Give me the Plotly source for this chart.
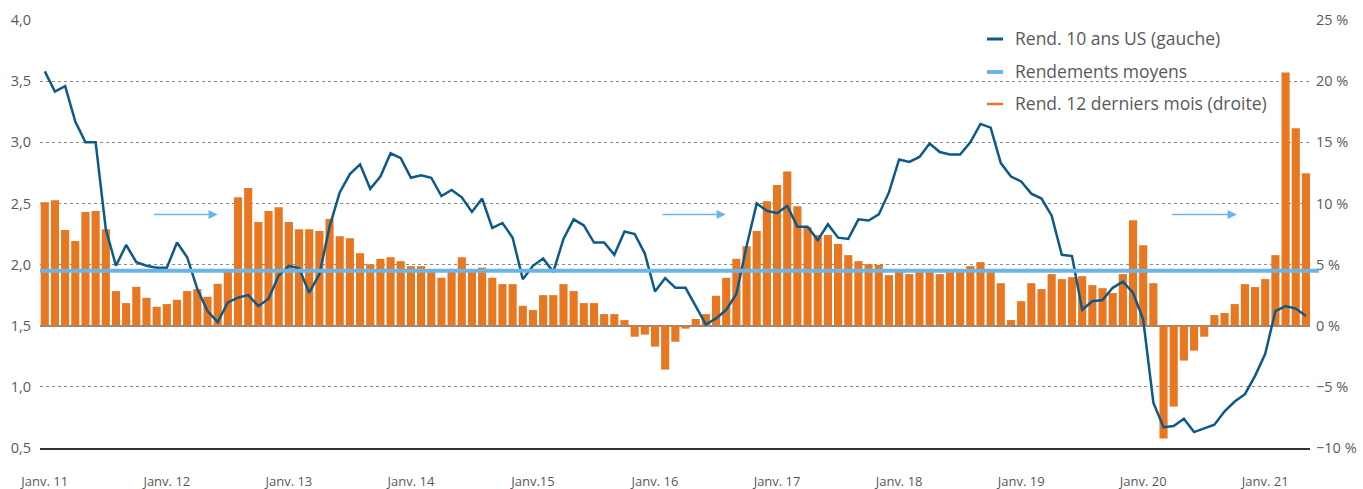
import plotly.graph_objects as go
import pandas as pd

# ---------------- data ----------------
months = pd.date_range("2011-01-01", "2021-05-01", freq="MS")

ret_12m = [  # Rend. 12 derniers mois (droite), %
    10.1, 10.25, 7.83, 6.93, 9.3, 9.38, 7.89, 2.83, 1.85, 3.18, 2.28, 1.55,
    1.77, 2.12, 2.83, 2.99, 2.37, 3.43, 4.5, 10.5,
    11.26, 8.48, 9.38, 9.68, 8.48, 7.89, 7.89, 7.75, 8.73, 7.32, 7.15, 5.93,
    5.03, 5.47, 5.6, 5.28, 4.87, 4.87, 4.45, 3.92,
    4.4, 5.6, 4.45, 4.75, 3.92, 3.40, 3.40, 1.63, 1.28, 2.50, 2.50, 3.40,
    2.83, 1.85, 1.85, 0.95, 0.95, 0.46, -0.90, -0.73, -1.71, -3.59, -1.31,
    -0.24, 0.55, 0.95, 2.45, 3.92, 5.47, 6.5, 7.75, 10.17, 11.5, 12.62,
    9.76, 8.05, 7.42, 7.42, 6.69, 5.77, 5.28, 5.03, 4.98, 4.14,
    4.4, 4.22, 4.45, 4.45, 4.22, 4.45, 4.45, 4.87, 5.2, 4.45, 3.48, 0.46,
    2.01, 3.48, 2.99, 4.22, 3.81, 3.97, 4.05, 3.32, 3.07, 2.67, 4.22,
    8.62, 6.58, 3.48, -9.22, -6.61, -2.85, -2.04, -0.90, 0.87, 1.04, 1.77,
    3.40, 3.16, 3.81, 5.77, 20.7, 16.15, 12.46,
]

us10y = [  # Rend. 10 ans US (gauche)
    3.58, 3.415, 3.46, 3.17, 3.00, 3.00, 2.29, 1.99, 2.16, 2.02, 1.99, 1.975,
    1.975, 2.18, 2.06, 1.80, 1.62, 1.53, 1.69, 1.73,
    1.75, 1.66, 1.72, 1.91, 1.99, 1.97, 1.77, 1.92, 2.31, 2.59, 2.74, 2.82,
    2.62, 2.72, 2.91, 2.87, 2.71, 2.73, 2.71, 2.56, 2.61,
    2.55, 2.43, 2.54, 2.30, 2.34, 2.22, 1.88, 1.99, 2.05, 1.94, 2.21, 2.37,
    2.32, 2.18, 2.18, 2.08, 2.27, 2.25, 2.09, 1.78, 1.89, 1.81,
    1.81, 1.66, 1.51, 1.56, 1.63, 1.76, 2.15, 2.50, 2.44, 2.42, 2.48, 2.31,
    2.31, 2.20, 2.33, 2.22, 2.21, 2.37, 2.36, 2.41, 2.59, 2.86,
    2.84, 2.88, 2.99, 2.92, 2.90, 2.90, 3.00, 3.15, 3.12, 2.83, 2.72, 2.68,
    2.58, 2.54, 2.40, 2.08, 2.07, 1.63, 1.70, 1.71, 1.81,
    1.86, 1.77, 1.55, 0.87, 0.67, 0.68, 0.74, 0.63, 0.66, 0.69, 0.80, 0.88,
    0.94, 1.09, 1.27, 1.62, 1.66, 1.64, 1.58,
]

avg_ret = 4.5  # Rendements moyens, %

tick_labels = ["Janv. 11", "Janv. 12", "Janv. 13", "Janv. 14", "Janv.15",
               "Janv. 16", "Janv. 17", "Janv. 18", "Janv. 19", "Janv. 20",
               "Janv. 21"]

legend_names = ["Rend. 10 ans US (gauche)", "Rendements moyens",
                "Rend. 12 derniers mois (droite)"]

# arrows (tail, head) in month index, at a level in %
arrow_spans = [(10.6, 17.0), (60.6, 66.95), (110.7, 117.2)]
arrow_level = 9.1

# ---------------- styling ----------------
C_LINE = "#0b5a8a"
C_AVG = "#6cb4e6"
C_BAR = "#e87722"
C_TXT = "#595959"
FONT = "Open Sans"

W, H = 1363, 489
ML, MR, MT, MB = 40, 53, 20, 41
PW, PH = W - ML - MR, H - MT - MB


def px(xp):
    return (xp - ML) / PW


def py(yp):
    return (H - MB - yp) / PH


x = list(range(len(months)))
tickvals = [i for i, m in enumerate(months) if m.month == 1]

fig = go.Figure()
fig.add_trace(go.Bar(x=x, y=ret_12m, marker_color=C_BAR, marker_line_width=0,
                     name=legend_names[2], yaxis="y", showlegend=False))
fig.add_trace(go.Scatter(x=x, y=us10y, mode="lines", name=legend_names[0],
                         line=dict(color=C_LINE, width=2.5), yaxis="y2",
                         showlegend=False))

shapes = [
    dict(type="line", xref="paper", yref="y", x0=0, x1=1.007,
         y0=avg_ret, y1=avg_ret, line=dict(color=C_AVG, width=4), layer="above"),
]

# manual legend
leg_y = [39, 72, 104]
leg_col = [C_LINE, C_AVG, C_BAR]
leg_w = [3, 4, 2.5]
annotations = []
for name, yy, col, lw in zip(legend_names, leg_y, leg_col, leg_w):
    shapes.append(dict(type="line", xref="paper", yref="paper",
                       x0=px(987), x1=px(1003), y0=py(yy), y1=py(yy),
                       line=dict(color=col, width=lw)))
    annotations.append(dict(xref="paper", yref="paper", x=px(1013), y=py(yy - 1),
                            xanchor="left", yanchor="middle", text=name,
                            showarrow=False,
                            font=dict(family=FONT, size=17.5, color=C_TXT)))

for tail, head in arrow_spans:
    annotations.append(dict(xref="x", yref="y", axref="x", ayref="y",
                            x=head, y=arrow_level, ax=tail, ay=arrow_level,
                            text="", showarrow=True, arrowhead=2, arrowsize=1.3,
                            arrowwidth=1.4, arrowcolor=C_AVG))

fig.update_layout(
    width=W, height=H, autosize=False,
    margin=dict(l=ML, r=MR, t=MT, b=MB),
    paper_bgcolor="white", plot_bgcolor="white",
    font=dict(family=FONT, color=C_TXT),
    separators=", ",
    bargap=0.2,
    showlegend=False,
    shapes=shapes,
    annotations=annotations,
    xaxis=dict(range=[-0.47, 124.4], tickvals=tickvals, ticktext=tick_labels,
               showgrid=False, zeroline=False, showline=True,
               linecolor="#333333", linewidth=1.5, ticks="",
               tickfont=dict(family=FONT, size=13, color=C_TXT),
               ticklabelstandoff=21, automargin=False),
    yaxis=dict(side="right", range=[-10, 25], dtick=5, tick0=0,
               ticksuffix=" %", showgrid=True, gridcolor="#8a8a8a",
               griddash="dot", gridwidth=1, zeroline=True,
               zerolinecolor="#8c8c8c", zerolinewidth=2, showline=False,
               ticks="", tickfont=dict(family=FONT, size=14.5, color=C_TXT),
               ticklabelstandoff=5, automargin=False),
    yaxis2=dict(overlaying="y", side="left", range=[0.5, 4.0], dtick=0.5,
                tick0=0.5, tickformat=".1f", showgrid=False, zeroline=False,
                showline=False, ticks="",
                tickfont=dict(family=FONT, size=14.5, color=C_TXT),
                ticklabelstandoff=8, automargin=False),
)

fig.write_html("out.html")
